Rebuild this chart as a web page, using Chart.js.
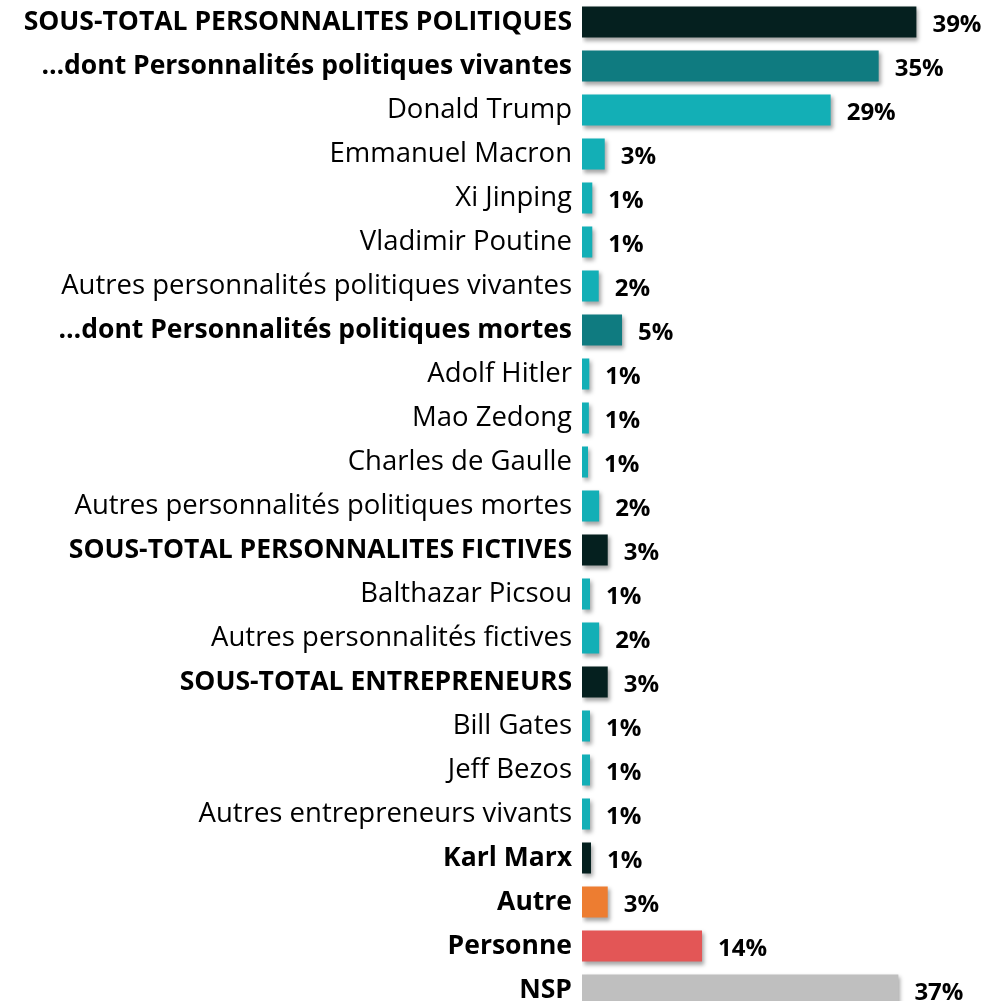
<!DOCTYPE html>
<html>
<head>
<meta charset="utf-8">
<script src="https://cdn.jsdelivr.net/npm/chart.js@4"></script>
<style>
    html, body { margin: 0; padding: 0; background: #fff; overflow: hidden; }
    #wrap { width: 985px; height: 1012px; }
</style>
</head>
<body>
<div id="wrap"><canvas id="Chart1" width="985" height="1012"></canvas></div>
<script>
const labels = [
    'SOUS-TOTAL PERSONNALITES POLITIQUES',
    '…dont Personnalités politiques vivantes',
    'Donald Trump',
    'Emmanuel Macron',
    'Xi Jinping',
    'Vladimir Poutine',
    'Autres personnalités politiques vivantes',
    '…dont Personnalités politiques mortes',
    'Adolf Hitler',
    'Mao Zedong',
    'Charles de Gaulle',
    'Autres personnalités politiques mortes',
    'SOUS-TOTAL PERSONNALITES FICTIVES',
    'Balthazar Picsou',
    'Autres personnalités fictives',
    'SOUS-TOTAL ENTREPRENEURS',
    'Bill Gates',
    'Jeff Bezos',
    'Autres entrepreneurs vivants',
    'Karl Marx',
    'Autre',
    'Personne',
    'NSP'
];

// bar lengths (percent)
const values = [39, 34.6, 29, 2.65, 1.2, 1.2, 1.95, 4.67, 0.85, 0.8, 0.7, 2, 3, 0.93, 2, 3, 0.93, 0.93, 0.93, 1.05, 3, 14, 36.9];

// printed labels
const valueLabels = ['39%', '35%', '29%', '3%', '1%', '1%', '2%', '5%', '1%', '1%', '1%', '2%', '3%', '1%', '2%', '3%', '1%', '1%', '1%', '1%', '3%', '14%', '37%'];

const boldRows = [0, 1, 7, 12, 15, 19, 20, 21, 22];

const DARK = '#05201F';
const TEAL = '#0F7B80';
const CYAN = '#13AFB6';
const barColors = [
    DARK, TEAL, CYAN, CYAN, CYAN, CYAN, CYAN, TEAL, CYAN, CYAN, CYAN, CYAN,
    DARK, CYAN, CYAN, DARK, CYAN, CYAN, CYAN, DARK, '#ED7D31', '#E35656', '#BFBFBF'
];

const FONT = '"Open Sans"';

const shadowPlugin = {
    id: 'barShadow',
    beforeDatasetsDraw(chart) {
        const ctx = chart.ctx;
        ctx.save();
        ctx.shadowColor = 'rgba(0,0,0,0.35)';
        ctx.shadowBlur = 4;
        ctx.shadowOffsetX = 2;
        ctx.shadowOffsetY = 3;
    },
    afterDatasetsDraw(chart) {
        chart.ctx.restore();
    }
};

const valuePlugin = {
    id: 'valueLabels',
    afterDraw(chart) {
        const ctx = chart.ctx;
        const meta = chart.getDatasetMeta(0);
        ctx.save();
        ctx.font = 'bold 24px ' + FONT;
        ctx.fillStyle = '#000';
        ctx.textAlign = 'left';
        ctx.textBaseline = 'middle';
        meta.data.forEach((bar, i) => {
            ctx.fillText(valueLabels[i], bar.x + 16, bar.y + 3);
        });
        ctx.restore();
    }
};

const ctx = document.getElementById('Chart1').getContext('2d');
const chart = new Chart(ctx, {
    type: 'bar',
    data: {
        labels: labels,
        datasets: [{
            data: values,
            backgroundColor: barColors,
            borderWidth: 0,
            barPercentage: 0.705,
            categoryPercentage: 1
        }]
    },
    options: {
        indexAxis: 'y',
        responsive: false,
        animation: false,
        layout: {padding: 0},
        plugins: {
            legend: {display: false},
            tooltip: {enabled: false}
        },
        scales: {
            x: {
                display: false,
                min: 0,
                max: 47
            },
            y: {
                afterFit(scale) {
                    scale.width = 582;
                    scale.paddingTop = 0;
                    scale.paddingBottom = 0;
                },
                grid: {display: false, drawTicks: false},
                border: {display: false},
                ticks: {
                    padding: 10,
                    color: '#000',
                    font: (c) => boldRows.includes(c.index)
                        ? {family: FONT, size: 26.5, weight: 'bold'}
                        : {family: FONT, size: 27.5, weight: 'normal'}
                }
            }
        }
    },
    plugins: [shadowPlugin, valuePlugin]
});
</script>
</body>
</html>
